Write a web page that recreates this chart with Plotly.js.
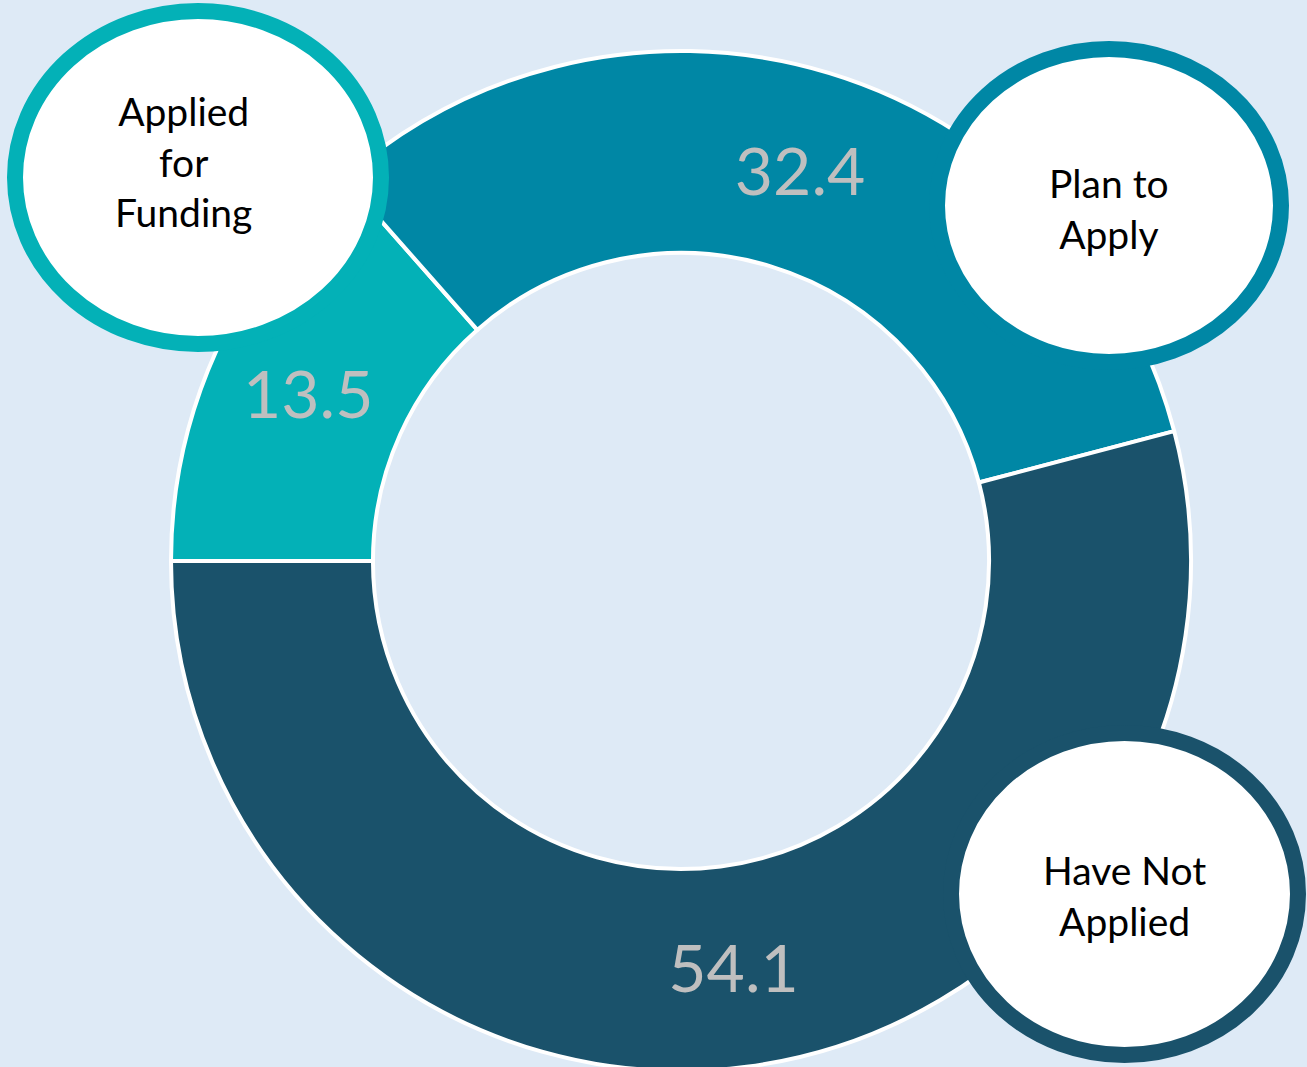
<!DOCTYPE html>
<html>
<head>
<meta charset="utf-8">
<script src="https://cdn.plot.ly/plotly-3.0.1.min.js"></script>
<style>html,body{margin:0;padding:0;background:#DEEAF6;overflow:hidden;}</style>
</head>
<body>
<div id="chart" style="width:1307px;height:1072px;"></div>
<script>
const categories = ["Applied for Funding", "Plan to Apply", "Have Not Applied"];
const values = [13.5, 32.4, 54.1];
const sliceColors = ["#03B1B7", "#0087A5", "#1A526B"];
const bubbleLabels = ["Applied<br>for<br>Funding", "Plan to<br>Apply", "Have Not<br>Applied"];

const W = 1307, H = 1072;
// bubble ellipses in pixel coords from top-left (stroke centerline)
const bubbles = [
  {x0: 15, x1: 381, y0: 11, y1: 344, tx: 183, ty: 161},
  {x0: 937, x1: 1281, y0: 49, y1: 362, tx: 1109, ty: 208},
  {x0: 951, x1: 1298, y0: 733, y1: 1055, tx: 1124, ty: 895}
];
const px = x => x / W;
const py = y => 1 - y / H;

const shapes = bubbles.map((b, i) => ({
  type: "circle", xref: "paper", yref: "paper", layer: "above",
  x0: px(b.x0), x1: px(b.x1), y0: py(b.y1), y1: py(b.y0),
  fillcolor: "#FFFFFF", line: {color: sliceColors[i], width: 16}
}));
const annotations = bubbles.map((b, i) => ({
  xref: "paper", yref: "paper", x: px(b.tx), y: py(b.ty),
  xanchor: "center", yanchor: "middle", showarrow: false,
  text: bubbleLabels[i],
  font: {family: "Lato, 'Open Sans', sans-serif", size: 39, color: "#000000"}
}));

const cx = 681, cyFromBottom = H - 561, R = 510;
const trace = {
  type: "pie",
  labels: categories,
  values: values,
  hole: 0.604,
  sort: false,
  direction: "clockwise",
  rotation: 270,
  marker: {colors: sliceColors, line: {color: "#FFFFFF", width: 4}},
  textinfo: "value",
  textposition: "inside",
  insidetextorientation: "horizontal",
  textfont: {family: "Lato, 'Open Sans', sans-serif", size: 66, color: "#BFBFBF"},
  domain: {x: [(cx - R - 20) / W, (cx + R + 20) / W], y: [(cyFromBottom - R) / H, (cyFromBottom + R) / H]},
  showlegend: false,
  hoverinfo: "label+value"
};

const layout = {
  width: W, height: H,
  margin: {l: 0, r: 0, t: 0, b: 0},
  paper_bgcolor: "#DEEAF6",
  plot_bgcolor: "#DEEAF6",
  showlegend: false,
  shapes: shapes,
  annotations: annotations
};

Plotly.newPlot("chart", [trace], layout, {displayModeBar: false, staticPlot: true});
</script>
</body>
</html>
